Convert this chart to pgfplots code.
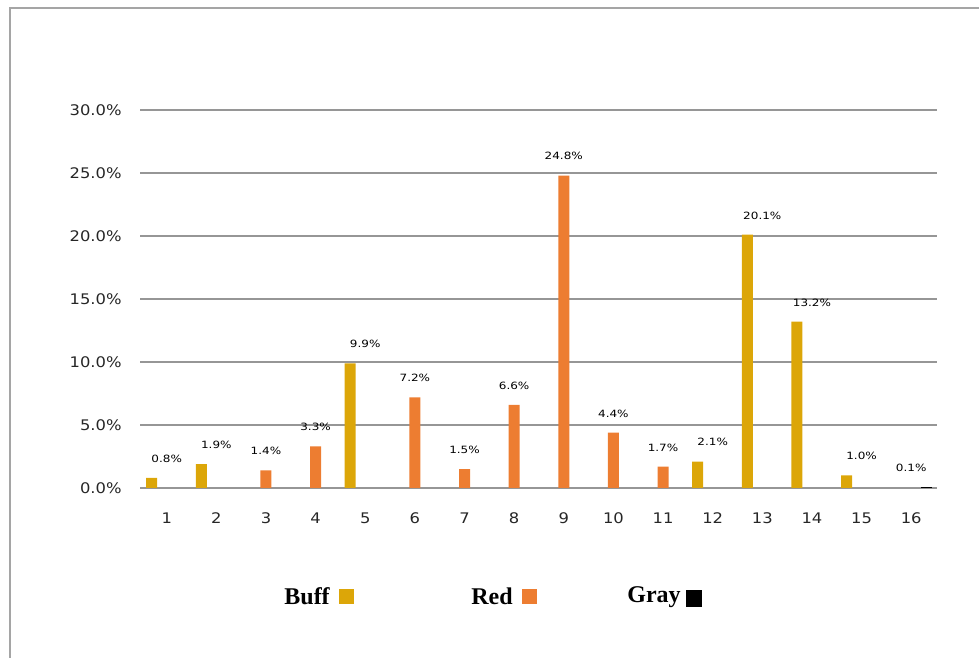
\documentclass[border=0pt]{standalone}
\usepackage{fontspec}
\usepackage{pgfplots}
\pgfplotsset{compat=1.18}
\newfontfamily\tickfont[FakeStretch=1.12]{DejaVu Sans}
\newfontfamily\labfont[FakeStretch=1.2]{DejaVu Sans}
\newfontfamily\legfont{Liberation Serif}
\definecolor{buff}{RGB}{220,166,8}
\definecolor{redc}{RGB}{237,125,49}
\definecolor{gridc}{RGB}{150,150,150}
\definecolor{framec}{RGB}{165,165,165}
\begin{document}
\begin{tikzpicture}
\useasboundingbox (0,0) rectangle (489.5pt,329pt);
% outer frame (px -> 0.5pt, y flipped)
\draw[framec, line width=1pt] (5pt,-5pt) -- (5pt,325pt) -- (495pt,325pt);
\begin{axis}[
  at={(70pt,85pt)}, anchor=south west,
  scale only axis, width=398.5pt, height=189pt,
  xmin=0.462, xmax=16.52, ymin=0, ymax=30,
  axis line style={draw=none},
  major tick length=0pt,
  ymajorgrids, grid style={gridc, line width=1pt},
  ytick={0,5,10,15,20,25,30},
  xtick={1,...,16},
  /pgf/number format/assume math mode=true,
  yticklabel={\pgfmathprintnumber[fixed,fixed zerofill,precision=1]{\tick}\%},
  yticklabel style={font=\tickfont\fontsize{7.3pt}{8pt}\selectfont, anchor=east, inner sep=0pt, xshift=-9pt, text=black!85},
  xticklabel style={font=\tickfont\fontsize{7.3pt}{8pt}\selectfont, anchor=north, inner sep=0pt, yshift=-12pt, text=black!85},
  nodes near coords={\pgfmathprintnumber[fixed,fixed zerofill,precision=1]{\pgfplotspointmeta}\%},
  every node near coord/.append style={font=\labfont\fontsize{5pt}{6pt}\selectfont, anchor=south, inner sep=0pt, yshift=7.5pt, text=black},
  clip=false,
]
% Buff
\addplot[ybar, bar width=5.5pt, bar shift=-7.5pt, fill=buff, draw=none] coordinates {
  (1,0.8) (2,1.9) (5,9.9) (12,2.1) (13,20.1) (14,13.2) (15,1.0)};
% Red
\addplot[ybar, bar width=5.5pt, bar shift=0pt, fill=redc, draw=none] coordinates {
  (3,1.4) (4,3.3) (6,7.2) (7,1.5) (8,6.6) (9,24.8) (10,4.4) (11,1.7)};
% Gray
\addplot[ybar, bar width=5.5pt, bar shift=7.5pt, fill=black, draw=none] coordinates {
  (16,0.1)};
\end{axis}
% legend
\node[anchor=west, inner sep=0pt, font=\legfont\bfseries\fontsize{12pt}{14pt}\selectfont] at (142pt,31pt) {Buff};
\fill[buff] (169.5pt,27pt) rectangle (177pt,34.5pt);
\node[anchor=west, inner sep=0pt, font=\legfont\bfseries\fontsize{12pt}{14pt}\selectfont] at (235.5pt,31pt) {Red};
\fill[redc] (261pt,27pt) rectangle (268.5pt,34.5pt);
\node[anchor=west, inner sep=0pt, font=\legfont\bfseries\fontsize{12pt}{14pt}\selectfont] at (313.5pt,30.5pt) {Gray};
\fill[black] (343pt,25.5pt) rectangle (351pt,34pt);
\end{tikzpicture}
\end{document}
